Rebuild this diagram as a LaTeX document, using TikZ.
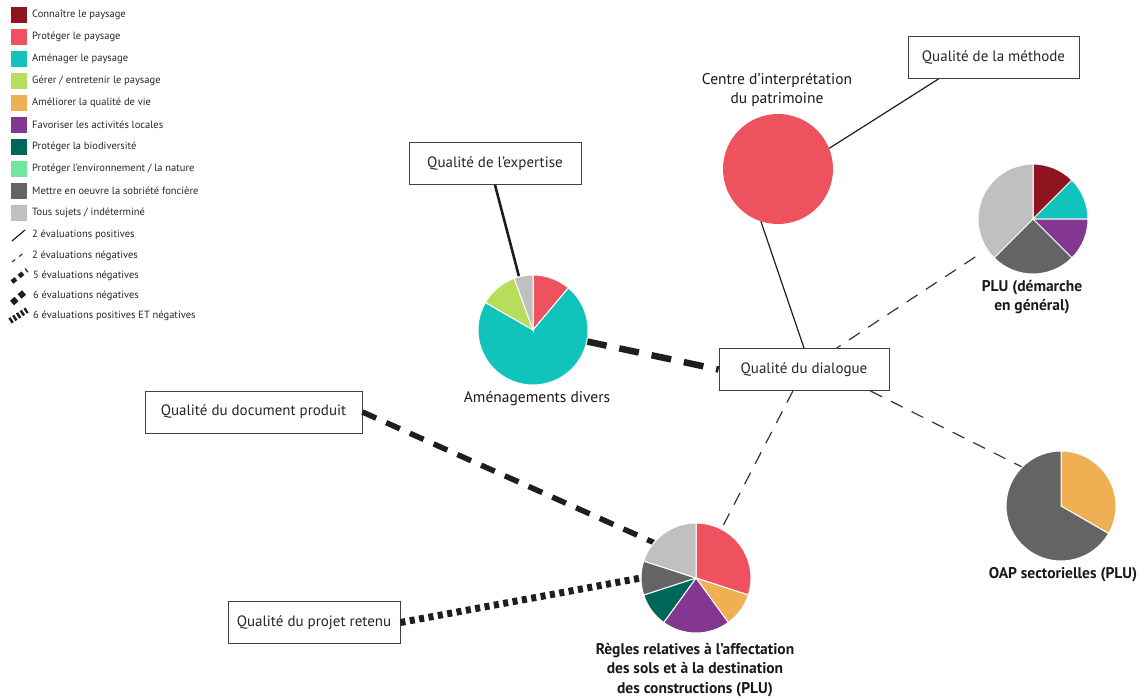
\documentclass[tikz,border=0pt]{standalone}
\usepackage{fontspec}
\setmainfont{PT Sans}
\usetikzlibrary{positioning}
\definecolor{connaitre}{HTML}{8E1520}
\definecolor{protege}{HTML}{EE525F}
\definecolor{amenage}{HTML}{10C3BB}
\definecolor{gerer}{HTML}{B6DD5C}
\definecolor{ameliore}{HTML}{EFB053}
\definecolor{favorise}{HTML}{833791}
\definecolor{biodiv}{HTML}{00665A}
\definecolor{environ}{HTML}{70E6A0}
\definecolor{sobriete}{HTML}{646464}
\definecolor{tous}{HTML}{C0C0C0}
\definecolor{trait}{HTML}{1E1E1E}
\newcommand{\pieslice}[4]{\fill[#4,draw=white,line width=1pt] (#1.center) -- ++(#2:55pt) arc[start angle=#2,end angle=#3,radius=55pt] -- cycle;}

\begin{document}
\begin{tikzpicture}[x=1pt,y=1pt,
  box/.style={draw=black!75,line width=0.9pt,fill=white,minimum height=42pt,minimum width=172pt,font=\fontsize{15}{18}\selectfont,text=black!85},
  pie/.style={circle,minimum size=110pt,inner sep=0pt},
  lbl/.style={align=center,text=black!90,font=\fontsize{15.5}{19.5}\selectfont},
  blbl/.style={lbl,font=\fontsize{15.5}{19.5}\selectfont\bfseries},
  leg/.style={anchor=west,inner sep=0pt,text=black!85,font=\fontsize{10.5}{12}\selectfont},
  pos2/.style={draw=trait,line width=1.2pt},
  pos3/.style={draw=trait,line width=2.6pt},
  neg2/.style={draw=trait!90,line width=1.2pt,dash pattern=on 13pt off 10pt},
  neg5/.style={draw=trait,line width=6.5pt,dash pattern=on 20pt off 13pt},
  neg6/.style={draw=trait,line width=5.5pt,dash pattern=on 15pt off 11pt},
  mix6/.style={draw=trait,line width=7pt,dash pattern=on 5pt off 4.5pt}]
\useasboundingbox (0,0) rectangle (1147,-698);

\foreach \c/\y/\t in {connaitre/15/{Connaître le paysage},protege/37/{Protéger le paysage},amenage/59/{Aménager le paysage},gerer/81/{Gérer / entretenir le paysage},ameliore/103/{Améliorer la qualité de vie},favorise/125/{Favoriser les activités locales},biodiv/147/{Protéger la biodiversité},environ/169/{Protéger l’environnement / la nature},sobriete/191/{Mettre en oeuvre la sobriété foncière},tous/213/{Tous sujets / indéterminé}}
  {\fill[\c] (11,-\y+8) rectangle (27,-\y-8); \node[leg] (leg\y) at (32,-\y) {\t};}
\draw[pos2] (12,-241) -- (25,-230); \node[leg] (legpos) at (32,-235) {2 évaluations positives};
\draw[neg2,dash pattern=on 4pt off 5pt] (12,-262) -- (25,-252); \node[leg] (legneg) at (32,-256) {2 évaluations négatives};
\draw[neg5,line width=4.5pt,dash pattern=on 5pt off 4pt] (12,-282) -- (27,-270); \node[leg] (legneg5) at (33,-276) {5 évaluations négatives};
\draw[neg6,line width=6pt,dash pattern=on 6pt off 4pt] (12,-303) -- (27,-290); \node[leg] (legneg6) at (33,-296) {6 évaluations négatives};
\draw[mix6,line width=6pt,dash pattern=on 2.5pt off 2pt] (10,-321) -- (27,-310); \node[leg] (legmix) at (33,-316) {6 évaluations positives ET négatives};

\node[box] (expert) at (495,-163.5) {Qualité de l’expertise};
\node[box,minimum width=171pt] (meth) at (993.5,-57.5) {Qualité de la méthode};
\node[box,minimum width=170pt] (dial) at (804,-369.5) {Qualité du dialogue};
\node[box,minimum width=217pt] (doc) at (253.5,-412) {Qualité du document produit};
\node[box] (projet) at (314,-622.5) {Qualité du projet retenu};

\node[pie] (amen) at (533,-330) {};
\node[pie,fill=protege] (centre) at (778,-169) {};
\node[pie] (plu) at (1033,-219) {};
\node[pie] (regles) at (696,-578) {};
\node[pie] (oap) at (1061,-506) {};

\node[lbl] (amenlbl) at (537,-399) {Aménagements divers};
\node[lbl] (centrelbl) at (777,-90) {Centre d’interprétation\\du patrimoine};
\node[blbl] (plulbl) at (1032,-297) {PLU (démarche\\en général)};
\node[blbl] (regleslbl) at (695,-670) {Règles relatives à l’affectation\\des sols et à la destination\\des constructions (PLU)};
\node[blbl] (oaplbl) at (1063,-575) {OAP sectorielles (PLU)};

\draw[pos3] (expert.south) -- (amen);
\draw[pos2] ([xshift=-55pt]meth.south) -- (centre.22);
\draw[pos2] (centre.252) -- (dial.north);
\draw[neg2,shorten <=14pt] (plu) -- (dial);
\draw[neg5] (amen) -- (dial.west);
\draw[neg2] (dial) -- (regles);
\draw[neg2] ([xshift=-19pt]dial.south east) -- (oap.135);
\draw[neg6] (doc.east) -- (regles.140);
\draw[mix6] (projet.east) -- (regles.west);

\foreach \a/\b/\c in {90/50/protege,50/-210/amenage,150/110/gerer,110/90/tous} {\pieslice{amen}{\a}{\b}{\c}}
\foreach \a/\b/\c in {90/45/connaitre,45/0/amenage,0/-45/favorise,-45/-135/sobriete,-135/-270/tous} {\pieslice{plu}{\a}{\b}{\c}}
\foreach \a/\b/\c in {90/-18/protege,-18/-54/ameliore,-54/-126/favorise,-126/-162/biodiv,-162/-198/sobriete,-198/-270/tous} {\pieslice{regles}{\a}{\b}{\c}}
\foreach \a/\b/\c in {90/-30/ameliore,-30/-270/sobriete} {\pieslice{oap}{\a}{\b}{\c}}
\end{tikzpicture}
\end{document}
